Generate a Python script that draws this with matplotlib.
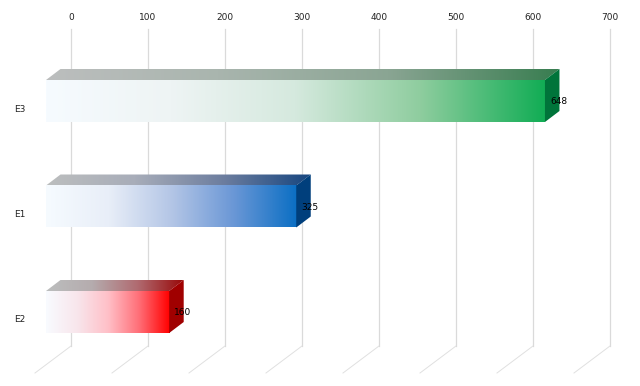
import numpy as np
import matplotlib
matplotlib.use('Agg')
import matplotlib.pyplot as plt
from matplotlib.colors import LinearSegmentedColormap
from matplotlib.patches import Polygon

categories = ['E3', 'E1', 'E2']
values = [648, 325, 160]
ticks = [0, 100, 200, 300, 400, 500, 600, 700]

front_stops = [
    ['#f6fbff', '#eef4f4', '#d5e9de', '#8fcd9f', '#12ad55'],
    ['#f6fbff', '#e8eef8', '#b4c6e6', '#6a97d6', '#0b6fc4'],
    ['#f9fbff', '#f8e6ec', '#ffc0c8', '#ff6f78', '#ff0000'],
]
top_stops = [
    ['#bcbebe', '#a9b5ae', '#8aa593', '#387d50'],
    ['#bcbebe', '#a8adb9', '#6d7e9f', '#174680'],
    ['#bcbebe', '#b5acae', '#b06a70', '#980808'],
]
side_colors = ['#00743a', '#003f7c', '#a00000']

# pixel scale of the reference
PX_X = 0.77
PX_Y = 105.5
X0 = 71
Y0 = 101

fig = plt.figure(figsize=(6.4, 3.86), dpi=100)
ax = fig.add_axes([0, 0, 1, 1])
ax.axis('off')

xlim = (-X0 / PX_X, (640 - X0) / PX_X)
ylim = ((386 - Y0) / PX_Y, -Y0 / PX_Y)

grid_top = (29 - Y0) / PX_Y
grid_bottom = (346 - Y0) / PX_Y
floor_dx = -36 / PX_X
floor_dy = 27 / PX_Y
grid_color = '#dadada'

for t in ticks:
    ax.plot([t, t], [grid_top, grid_bottom], color=grid_color, lw=0.9, zorder=1)
    ax.plot([t, t + floor_dx], [grid_bottom, grid_bottom + floor_dy],
            color='#e0e0e0', lw=0.7, zorder=1)
    ax.text(t, (17 - Y0) / PX_Y, str(t), ha='center', va='center',
            fontsize=6.5, color='#222222', zorder=5)

bar_start = -25 / PX_X
depth_x = 14.5 / PX_X
depth_y = -11 / PX_Y
half_h = 21 / PX_Y

for i, (cat, val) in enumerate(zip(categories, values)):
    left = bar_start
    right = bar_start + val
    top = i - half_h
    bottom = i + half_h
    grad = np.linspace(0, 1, 256).reshape(1, -1)

    # front face
    cmap = LinearSegmentedColormap.from_list('f%d' % i, front_stops[i])
    ax.imshow(grad, extent=(left, right, bottom, top), cmap=cmap, aspect='auto',
              zorder=3, interpolation='bilinear')

    # top face
    cmap = LinearSegmentedColormap.from_list('t%d' % i, top_stops[i])
    im = ax.imshow(grad, extent=(left, right + depth_x, top, top + depth_y), cmap=cmap,
                   aspect='auto', zorder=3, interpolation='bilinear')
    poly = Polygon([(left, top), (left + depth_x, top + depth_y),
                    (right + depth_x, top + depth_y), (right, top)],
                   transform=ax.transData, fc='none', ec='none')
    ax.add_patch(poly)
    im.set_clip_path(poly)

    # side face
    ax.add_patch(Polygon([(right, top), (right + depth_x, top + depth_y),
                          (right + depth_x, bottom + depth_y), (right, bottom)],
                         fc=side_colors[i], ec='none', zorder=3))

    ax.text((20 - X0) / PX_X, i + 8 / PX_Y, cat, ha='center', va='center',
            fontsize=6.5, color='#222222', zorder=5)
    ax.text(right + 13.5 / PX_X, i + 0.5 / PX_Y, str(val), ha='center', va='center',
            fontsize=6.5, color='#000000', zorder=5)

ax.set_xlim(xlim)
ax.set_ylim(ylim)

fig.savefig('out.png', dpi=100)
